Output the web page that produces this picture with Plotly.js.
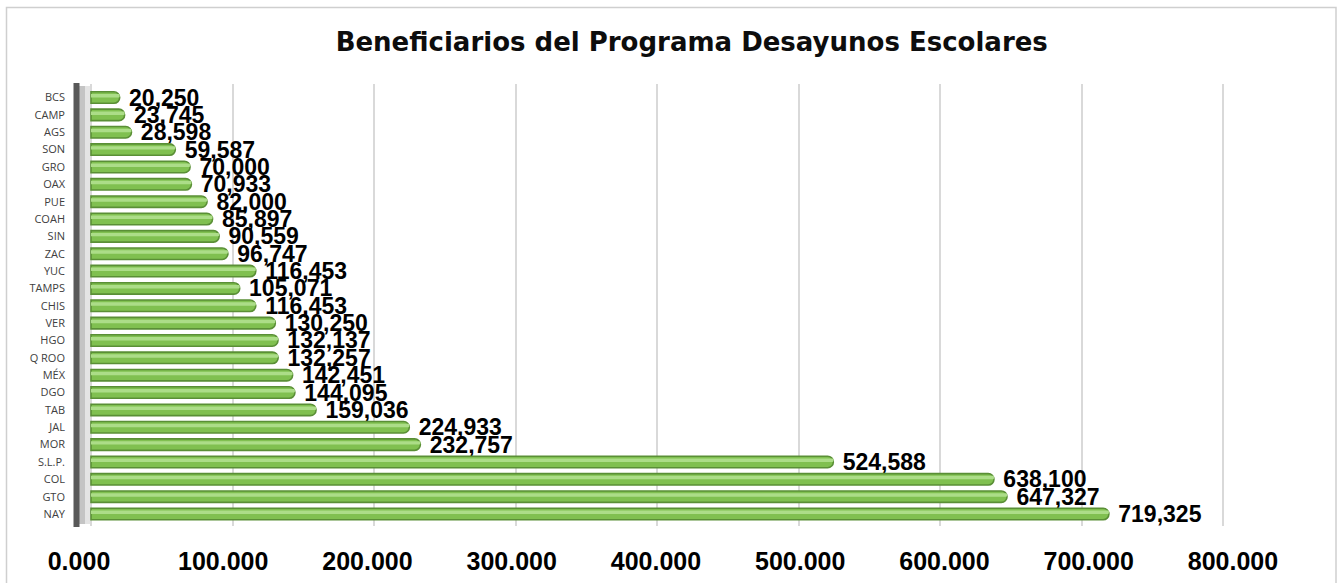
<!DOCTYPE html>
<html>
<head>
<meta charset="utf-8">
<script src="https://cdn.plot.ly/plotly-3.0.1.min.js"></script>
<style>html,body{margin:0;padding:0;background:#fff;}#chart{width:1338px;height:583px;}</style>
</head>
<body>
<div id="chart"></div>
<script>
// ---- data ----
const categories = ["BCS","CAMP","AGS","SON","GRO","OAX","PUE","COAH","SIN","ZAC","YUC","TAMPS","CHIS","VER","HGO","Q ROO","MÉX","DGO","TAB","JAL","MOR","S.L.P.","COL","GTO","NAY"];
const beneficiarios = [20250,23745,28598,59587,70000,70933,82000,85897,90559,96747,116453,105071,116453,130250,132137,132257,142451,144095,159036,224933,232757,524588,638100,647327,719325];
const tickValues = [0,100000,200000,300000,400000,500000,600000,700000,800000];
const tickLabels = ["0.000","100.000","200.000","300.000","400.000","500.000","600.000","700.000","800.000"];
const titleText = "Beneficiarios del Programa Desayunos Escolares";

// ---- geometry helpers (pixel layout) ----
const W = 1338, H = 583;
const mL = 76, mR = 48, mT = 84, mB = 57;
const plotW = W - mL - mR, plotH = H - mT - mB;
const px = v => (v - mL) / plotW;          // pixel x -> paper x
const py = v => (H - mB - v) / plotH;      // pixel y -> paper y

const mainBars = {
  type: "bar", orientation: "h",
  x: beneficiarios, y: categories,
  width: 0.66,
  marker: {color: "#80c050", line: {color: "#5a8f36", width: 1.6}, cornerradius: 6},
  texttemplate: "\u00a0%{x:,}",
  textposition: "outside",
  constraintext: "none",
  cliponaxis: false,
  textfont: {family: "Liberation Sans, Arial, sans-serif", size: 23, color: "#000000", weight: 700},
  hoverinfo: "x+y", showlegend: false
};
const highlight = {
  type: "bar", orientation: "h",
  x: beneficiarios, y: categories,
  width: 0.2, offset: -0.2,
  marker: {color: "#acdd88", line: {width: 0}, cornerradius: 3},
  hoverinfo: "skip", showlegend: false
};

const layout = {
  width: W, height: H,
  margin: {l: mL, r: mR, t: mT, b: mB},
  paper_bgcolor: "#ffffff", plot_bgcolor: "rgba(0,0,0,0)",
  barmode: "overlay",
  title: {
    text: "<b>" + titleText + "</b>",
    x: 0.517, xanchor: "center", y: 1 - 42 / H, yanchor: "middle",
    font: {family: "DejaVu Sans, sans-serif", size: 26, color: "#0d0d0d"}
  },
  xaxis: {
    range: [-10600, 847300],
    tickvals: tickValues, showticklabels: false,
    showgrid: true, gridcolor: "#d9d9d9", gridwidth: 2,
    zeroline: false, showline: false, ticks: ""
  },
  xaxis2: {
    overlaying: "x", side: "bottom", anchor: "y",
    range: [-2080, 839514],
    tickmode: "array", tickvals: tickValues, ticktext: tickLabels,
    showgrid: false, zeroline: false, showline: false, ticks: "",
    ticklabelstandoff: 18,
    tickfont: {family: "Liberation Sans, Arial, sans-serif", size: 25, color: "#000000", weight: 700}
  },
  yaxis: {
    type: "category",
    range: [24.69, -0.78],
    showgrid: false, zeroline: false,
    showline: false, ticks: "",
    ticklabelstandoff: 10,
    tickfont: {family: "Open Sans, sans-serif", size: 11, color: "#404040"}
  },
  shapes: [
    // outer chart frame
    {type: "rect", xref: "paper", yref: "paper", x0: px(6.5), x1: px(1336), y0: py(600), y1: py(7.5),
     line: {color: "#cfcfcf", width: 1.5}, fillcolor: "rgba(0,0,0,0)", layer: "below"},
    // side wall shading
    {type: "rect", xref: "paper", yref: "paper", x0: px(79), x1: px(85), y0: py(524), y1: py(86),
     line: {width: 0}, fillcolor: "#c4c4c4", layer: "below"},
    {type: "rect", xref: "paper", yref: "paper", x0: px(85), x1: px(92), y0: py(524), y1: py(86),
     line: {width: 0}, fillcolor: "#e4e4e4", layer: "below"},
    // wall edge
    {type: "line", xref: "paper", yref: "paper", x0: px(76.5), x1: px(76.5), y0: py(527), y1: py(83),
     line: {color: "#595959", width: 6}, layer: "above"}
  ]
};

const axisTicksTrace = {
  type: "scatter", mode: "none", xaxis: "x2", yaxis: "y",
  x: beneficiarios, y: categories, hoverinfo: "skip", showlegend: false
};

Plotly.newPlot("chart", [mainBars, highlight, axisTicksTrace], layout, {displayModeBar: false, staticPlot: true});
</script>
</body>
</html>
